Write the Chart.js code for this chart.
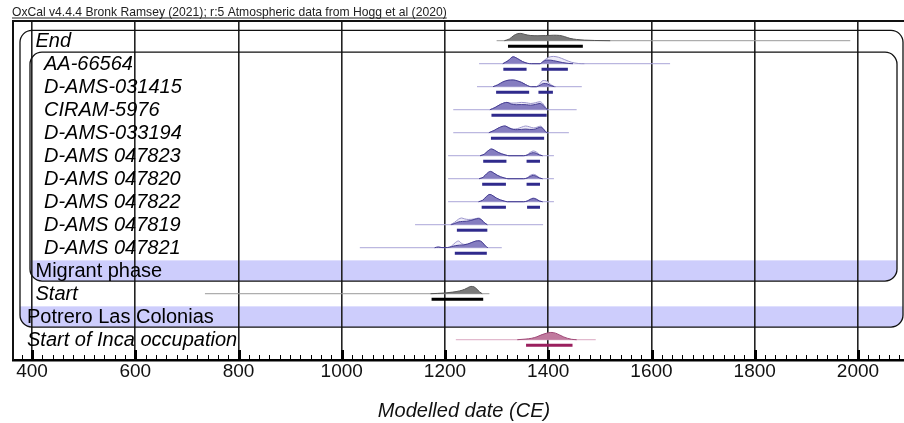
<!DOCTYPE html>
<html><head><meta charset="utf-8">
<script src="https://cdn.jsdelivr.net/npm/chart.js@4"></script>
<style>
html,body{margin:0;padding:0;overflow:hidden;background:#fff;width:904px;height:423px}
#wrap{position:relative;width:916px;height:423px}
</style></head>
<body><div id="wrap"><canvas id="c" width="916" height="423"></canvas></div>
<script>
// ---------- DATA ----------
const chartTitle = 'OxCal v4.4.4 Bronk Ramsey (2021); r:5 Atmospheric data from Hogg et al (2020)';
const axisTitle = 'Modelled date (CE)';
const tickValues = [400, 600, 800, 1000, 1200, 1400, 1600, 1800, 2000];

const rowLabels = ['End','AA-66564','D-AMS-031415','CIRAM-5976','D-AMS-033194','D-AMS 047823','D-AMS 047820','D-AMS 047822','D-AMS 047819','D-AMS 047821','Migrant phase','Start','Potrero Las Colonias','Start of Inca occupation'];
const rowKind  = ['boundary','date','date','date','date','date','date','date','date','date','phase','boundary','phase','inca'];
const rowDepth = [1,2,2,2,2,2,2,2,2,2,1,1,0,0];

const priorFrom = [1300,1266,1262,1216,1216,1206,1206,1206,1142,1035,null,735,null,1221];
const priorTo   = [1985,1636,1465,1455,1440,1411,1411,1411,1390,1310,null,1286,null,1492];

// [year, relative density]
const likeAA66564 = [[1312,0],[1322,0.4],[1332,0.95],[1340,0.72],[1350,0.3],[1360,0.05],[1368,0],[1384,0],[1392,0.45],[1400,0.85],[1410,1.0],[1420,0.88],[1432,0.55],[1445,0.2],[1458,0.03],[1470,0]];
const postAA66564 = [[1312,0],[1322,0.4],[1332,0.95],[1340,0.72],[1350,0.3],[1360,0.05],[1368,0],[1384,0],[1390,0.3],[1397,0.5],[1405,0.48],[1415,0.35],[1428,0.15],[1440,0.03],[1448,0]];
const like031415 = [[1293,0],[1302,0.25],[1312,0.65],[1322,0.88],[1332,0.92],[1340,0.8],[1348,0.6],[1356,0.3],[1363,0.05],[1368,0],[1377,0],[1383,0.35],[1390,0.85],[1396,0.8],[1403,0.4],[1410,0.08],[1415,0]];
const post031415 = [[1293,0],[1302,0.25],[1312,0.65],[1322,0.88],[1332,0.92],[1340,0.8],[1348,0.6],[1356,0.3],[1363,0.05],[1368,0],[1377,0],[1384,0.2],[1391,0.45],[1398,0.4],[1405,0.15],[1412,0]];
const likeCIRAM5976 = [[1287,0],[1297,0.3],[1308,0.75],[1320,1.0],[1328,0.9],[1338,0.92],[1348,1.0],[1358,0.95],[1366,0.85],[1375,0.95],[1384,1.1],[1390,0.8],[1395,0.3],[1399,0]];
const postCIRAM5976 = [[1287,0],[1297,0.3],[1308,0.75],[1320,1.0],[1328,0.78],[1338,0.68],[1348,0.7],[1358,0.68],[1366,0.62],[1375,0.72],[1384,0.85],[1390,0.6],[1395,0.2],[1399,0]];
const like033194 = [[1285,0],[1295,0.3],[1305,0.7],[1316,0.92],[1324,0.7],[1332,0.5],[1340,0.55],[1348,0.75],[1356,0.92],[1364,0.8],[1372,0.65],[1380,0.8],[1385,0.9],[1391,0.55],[1396,0.08],[1400,0]];
const post033194 = [[1285,0],[1295,0.3],[1305,0.7],[1316,0.92],[1324,0.65],[1332,0.45],[1340,0.42],[1348,0.45],[1356,0.5],[1364,0.45],[1372,0.45],[1380,0.65],[1385,0.75],[1391,0.45],[1396,0.05],[1400,0]];
const like047823 = [[1268,0],[1276,0.2],[1283,0.65],[1290,0.92],[1296,0.75],[1303,0.45],[1310,0.25],[1318,0.08],[1324,0],[1352,0],[1359,0.12],[1365,0.45],[1371,0.65],[1377,0.5],[1383,0.15],[1389,0]];
const post047823 = [[1268,0],[1276,0.2],[1283,0.65],[1290,0.92],[1296,0.75],[1303,0.45],[1310,0.25],[1318,0.08],[1324,0],[1352,0],[1359,0.08],[1365,0.3],[1371,0.42],[1377,0.32],[1383,0.1],[1389,0]];
const like047820 = [[1266,0],[1274,0.2],[1281,0.7],[1288,1.0],[1294,0.8],[1301,0.48],[1308,0.25],[1316,0.08],[1322,0],[1352,0],[1359,0.12],[1365,0.45],[1371,0.6],[1377,0.45],[1383,0.12],[1389,0]];
const post047820 = [[1266,0],[1274,0.2],[1281,0.7],[1288,1.0],[1294,0.8],[1301,0.48],[1308,0.25],[1316,0.08],[1322,0],[1352,0],[1359,0.08],[1365,0.32],[1371,0.45],[1377,0.33],[1383,0.1],[1389,0]];
const like047822 = [[1265,0],[1273,0.2],[1280,0.7],[1287,1.0],[1293,0.8],[1300,0.48],[1307,0.25],[1315,0.08],[1321,0],[1352,0],[1359,0.1],[1365,0.35],[1371,0.5],[1377,0.38],[1383,0.1],[1389,0]];
const post047822 = [[1265,0],[1273,0.2],[1280,0.7],[1287,1.0],[1293,0.8],[1300,0.48],[1307,0.25],[1315,0.08],[1321,0],[1352,0],[1359,0.08],[1365,0.3],[1371,0.45],[1377,0.33],[1383,0.1],[1389,0]];
const like047819 = [[1210,0],[1218,0.3],[1226,0.75],[1232,0.92],[1238,0.8],[1245,0.72],[1252,0.74],[1258,0.8],[1265,0.92],[1271,0.7],[1277,0.25],[1282,0]];
const post047819 = [[1212,0],[1218,0.15],[1226,0.38],[1234,0.45],[1242,0.48],[1250,0.58],[1258,0.75],[1265,0.84],[1271,0.65],[1277,0.22],[1282,0]];
const like047821 = [[1180,0],[1187,0.12],[1194,0.02],[1205,0.02],[1213,0.25],[1220,0.7],[1226,0.92],[1232,0.6],[1237,0.45],[1244,0.5],[1252,0.7],[1260,0.9],[1266,0.95],[1272,0.75],[1278,0.25],[1283,0]];
const post047821 = [[1180,0],[1187,0.08],[1194,0.02],[1205,0.03],[1213,0.15],[1220,0.28],[1228,0.35],[1236,0.38],[1244,0.5],[1252,0.72],[1260,0.92],[1266,0.95],[1272,0.75],[1278,0.25],[1283,0]];
const postEnd = [[1315,0],[1325,0.25],[1333,0.7],[1340,0.95],[1347,1.0],[1355,0.85],[1365,0.72],[1380,0.68],[1395,0.7],[1410,0.75],[1422,0.72],[1432,0.55],[1442,0.32],[1455,0.17],[1470,0.08],[1490,0.03],[1520,0]];
const postStart = [[1172,0],[1185,0.04],[1200,0.1],[1215,0.22],[1228,0.38],[1238,0.6],[1244,0.82],[1250,1.0],[1256,0.95],[1262,0.6],[1267,0.25],[1272,0]];
const postInca = [[1340,0],[1355,0.08],[1368,0.2],[1378,0.4],[1388,0.7],[1396,0.88],[1405,1.0],[1414,0.9],[1422,0.65],[1430,0.38],[1437,0.2],[1445,0.06],[1455,0]];

const likelihoods = [null, likeAA66564, like031415, likeCIRAM5976, like033194, like047823, like047820, like047822, like047819, like047821, null, null, null, null];
const posteriors  = [postEnd, postAA66564, post031415, postCIRAM5976, post033194, post047823, post047820, post047822, post047819, post047821, null, postStart, null, postInca];

// 95.4% ranges
const ranges = [
  [[1322,1467]],
  [[1313,1358],[1387,1438]],
  [[1299,1363],[1381,1409]],
  [[1290,1397]],
  [[1289,1392]],
  [[1274,1319],[1358,1384]],
  [[1272,1318],[1358,1384]],
  [[1271,1318],[1359,1384]],
  [[1223,1282]],
  [[1219,1281]],
  null,
  [[1174,1274]],
  null,
  [[1357,1447]]
];

// ---------- STYLE ----------
const FONT = '"Liberation Sans", Arial, sans-serif';
const ROW_PX = 23;
const DENS = 7.3 / ROW_PX;       // row units per density unit
const BAR_OFF = 5.5 / ROW_PX;    // range bar offset below baseline
const styles = {
  boundary: {prior:'#9a9a9a', likeFill:null, likeLine:null, postFill:'#7a7a7a', postLine:'#555555', range:'#000000'},
  date:     {prior:'#aba6d8', likeFill:'#eeecf9', likeLine:'#9b95cc', postFill:'#857dc0', postLine:'#453d92', range:'#2f2a8c'},
  inca:     {prior:'#dba9c2', likeFill:null, likeLine:null, postFill:'#c07a9e', postLine:'#a04a78', range:'#9a1f5e'}
};
const BAND = 'rgb(205,205,252)';

// ---------- DATASETS ----------
const datasets = [];
rowLabels.forEach((lab, r) => {
  const st = styles[rowKind[r]];
  if (!st) return;
  if (priorFrom[r] != null) {
    datasets.push({data:[{x:priorFrom[r],y:r},{x:priorTo[r],y:r}], borderColor:st.prior, borderWidth:1, pointRadius:0, fill:false, order:4});
  }
  if (likelihoods[r]) {
    datasets.push({data:likelihoods[r].map(p=>({x:p[0], y:r - p[1]*DENS})), borderColor:st.likeLine, backgroundColor:st.likeFill, borderWidth:1, pointRadius:0, tension:0.35, cubicInterpolationMode:'monotone', fill:{value:r}, order:3});
  }
  if (posteriors[r]) {
    datasets.push({data:posteriors[r].map(p=>({x:p[0], y:r - p[1]*DENS})), borderColor:st.postLine, backgroundColor:st.postFill, borderWidth:1, pointRadius:0, tension:0.35, cubicInterpolationMode:'monotone', fill:{value:r}, order:2});
  }
  if (ranges[r]) {
    const pts = [];
    ranges[r].forEach((seg, i) => {
      if (i > 0) pts.push({x:(ranges[r][i-1][1]+seg[0])/2, y:null});
      pts.push({x:seg[0], y:r + BAR_OFF});
      pts.push({x:seg[1], y:r + BAR_OFF});
    });
    datasets.push({data:pts, borderColor:st.range, borderWidth:3, borderCapStyle:'butt', pointRadius:0, fill:false, spanGaps:false, order:1});
  }
});

function roundRectPath(ctx, x0, y0, x1, y1, rad) {
  ctx.beginPath();
  ctx.moveTo(x0 + rad, y0);
  ctx.lineTo(x1 - rad, y0);
  ctx.arcTo(x1, y0, x1, y0 + rad, rad);
  ctx.lineTo(x1, y1 - rad);
  ctx.arcTo(x1, y1, x1 - rad, y1, rad);
  ctx.lineTo(x0 + rad, y1);
  ctx.arcTo(x0, y1, x0, y1 - rad, rad);
  ctx.lineTo(x0, y0 + rad);
  ctx.arcTo(x0, y0, x0 + rad, y0, rad);
  ctx.closePath();
}

function boxes(chart) {
  const a = chart.chartArea, ys = chart.scales.y;
  const rowPx = ys.getPixelForValue(1) - ys.getPixelForValue(0);
  const half = 0.45 * rowPx;
  return {
    outer: {x0:a.left + 7, y0:ys.getPixelForValue(0) - half, x1:a.right - 12, y1:ys.getPixelForValue(12) + half, band:12},
    inner: {x0:a.left + 17, y0:ys.getPixelForValue(0) + rowPx/2, x1:a.right - 18, y1:ys.getPixelForValue(10) + half, band:10},
    half
  };
}

const decor = {
  id:'decor',
  beforeDraw(chart) {
    const ctx = chart.ctx, ys = chart.scales.y;
    const b = boxes(chart);
    ctx.save();
    [b.outer, b.inner].forEach(bx => {
      ctx.save();
      roundRectPath(ctx, bx.x0, bx.y0, bx.x1, bx.y1, 12);
      ctx.clip();
      ctx.fillStyle = BAND;
      const yc = ys.getPixelForValue(bx.band);
      ctx.fillRect(bx.x0, yc - b.half, bx.x1 - bx.x0, 2 * b.half);
      ctx.restore();
    });
    ctx.restore();
  },
  afterDraw(chart) {
    const ctx = chart.ctx, a = chart.chartArea, xs = chart.scales.x, ys = chart.scales.y;
    const b = boxes(chart);
    ctx.save();
    // group boxes
    ctx.strokeStyle = '#111';
    ctx.lineWidth = 1.3;
    [b.outer, b.inner].forEach(bx => { roundRectPath(ctx, bx.x0, bx.y0, bx.x1, bx.y1, 12); ctx.stroke(); });
    // frame
    ctx.lineWidth = 2;
    ctx.beginPath();
    ctx.moveTo(a.left, a.bottom); ctx.lineTo(a.left, a.top); ctx.lineTo(a.right + 5, a.top);
    ctx.stroke();
    // minor / major ticks
    ctx.strokeStyle = '#000';
    for (let v = Math.ceil(xs.min / 20) * 20; v <= xs.max; v += 20) {
      const px = Math.round(xs.getPixelForValue(v)) + 0.5;
      const major = v % 200 === 0;
      ctx.lineWidth = major ? 3 : 1;
      ctx.beginPath();
      ctx.moveTo(px, a.bottom);
      ctx.lineTo(px, a.bottom - (major ? 10 : 5));
      ctx.stroke();
    }
    // row labels
    ctx.fillStyle = '#000';
    ctx.textBaseline = 'alphabetic';
    rowLabels.forEach((lab, r) => {
      ctx.font = (rowKind[r] === 'phase' ? '' : 'italic ') + '20px ' + FONT;
      ctx.fillText(lab, a.left + 14 + rowDepth[r] * 8.5, ys.getPixelForValue(r) + 6.6);
    });
    // top caption
    ctx.font = '12px ' + FONT;
    const w0 = ctx.measureText(chartTitle).width;
    const fs = 12 * 435 / w0;
    ctx.font = fs.toFixed(2) + 'px ' + FONT;
    ctx.fillStyle = '#222';
    ctx.fillText(chartTitle, 12, 15.5);
    ctx.fillRect(12, 17.5, ctx.measureText(chartTitle).width, 1);
    ctx.restore();
  }
};

new Chart(document.getElementById('c'), {
  type:'line',
  data:{datasets},
  options:{
    responsive:false, animation:false, devicePixelRatio:1,
    layout:{padding:{left:13, top:21, right:1, bottom:0}},
    plugins:{legend:{display:false}, tooltip:{enabled:false}, title:{display:false}},
    scales:{
      x:{type:'linear', min:363.2, max:2110.4,
         afterBuildTicks:s => { s.ticks = tickValues.map(v => ({value:v})); },
         afterFit:s => { s.height = 63; },
         ticks:{font:{size:19, family:FONT}, color:'#111', padding:0, maxRotation:0, autoSkip:false, callback:v => String(v)},
         grid:{color:'#222', lineWidth:1.6, drawTicks:false},
         border:{display:true, color:'#000', width:2.5},
         title:{display:true, text:axisTitle, color:'#111', font:{size:20, style:'italic', family:FONT}, padding:{top:0, bottom:0}}
      },
      y:{type:'linear', display:false, reverse:true, min:-0.8565, max:13.882}
    }
  },
  plugins:[decor]
});
</script></body></html>
